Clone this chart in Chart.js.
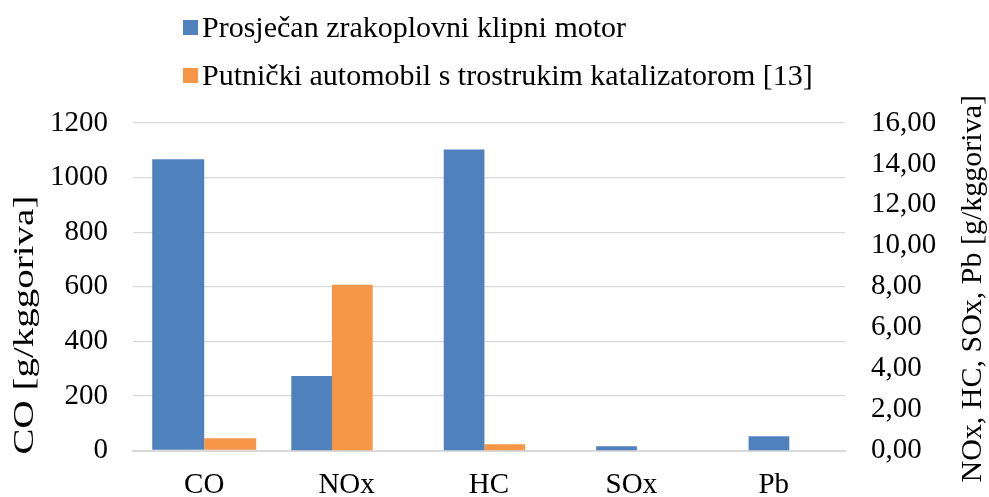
<!DOCTYPE html>
<html>
<head>
<meta charset="utf-8">
<script src="https://cdn.jsdelivr.net/npm/chart.js@4"></script>
<style>
  body { margin: 0; background: #fff; }
  #wrap { position: relative; width: 989px; height: 497px; }
  #legend { position: absolute; left: 183px; top: 3px; font: 30px 'Liberation Serif', 'Times New Roman', serif; color: #000; }
  #legend .row { display: flex; align-items: center; height: 48px; white-space: nowrap; }
  #legend .box { width: 15px; height: 15px; margin-right: 4px; }
</style>
</head>
<body>
<div id="wrap">
  <canvas id="emissionChart"></canvas>
  <div id="legend"></div>
</div>
<script>
// Data

const categories = ['CO', 'NOx', 'HC', 'SOx', 'Pb'];
const seriesNames = ['Prosječan zrakoplovni klipni motor', 'Putnički automobil s trostrukim katalizatorom [13]'];
const seriesColors = ['#4f81bd', '#f79646'];
// first value (CO) is on the left axis, the rest on the right axis
const pistonEngine = [1067, 3.64, 14.70, 0.21, 0.70];
const passengerCar = [45, 8.10, 0.31, 0, 0];
const leftTicks = [0, 200, 400, 600, 800, 1000, 1200];
const rightTicks = [0, 2, 4, 6, 8, 10, 12, 14, 16];
const leftTitle = 'CO [g/kggoriva]';
const rightTitle = 'NOx, HC, SOx, Pb [g/kggoriva]';

const FONT = "'Liberation Serif', 'Times New Roman', serif";
Chart.defaults.font.family = FONT;
Chart.defaults.color = '#000';

// HTML legend
const legendEl = document.getElementById('legend');
seriesNames.forEach((name, i) => {
    const row = document.createElement('div');
    row.className = 'row';
    const box = document.createElement('span');
    box.className = 'box';
    box.style.background = seriesColors[i];
    row.appendChild(box);
    row.appendChild(document.createTextNode(name));
    legendEl.appendChild(row);
});

const primaryData = s => categories.map((c, i) => i === 0 ? s[0] : null);
const secondaryPos = categories.slice(1).map((c, i) => i + 1);
const secondaryData = s => secondaryPos.map(x => ({ x: x, y: s[x] }));

// Axis titles, both read bottom to top
const axisTitles = {
    id: 'axisTitles',
    afterDraw(chart) {
        const ctx = chart.ctx;
        const area = chart.chartArea;
        ctx.save();
        ctx.fillStyle = '#000';
        ctx.textBaseline = 'middle';
        ctx.textAlign = 'left';
        ctx.font = '30px ' + FONT;
        ctx.translate(25, area.bottom + 4);
        ctx.rotate(-Math.PI / 2);
        ctx.scale(1.3, 1); // the left title is stretched along its length in the original
        ctx.fillText(leftTitle, 0, 0);
        ctx.restore();

        ctx.save();
        ctx.fillStyle = '#000';
        ctx.textBaseline = 'middle';
        ctx.textAlign = 'left';
        ctx.font = '30px ' + FONT;
        ctx.translate(973, area.bottom + 32);
        ctx.rotate(-Math.PI / 2);
        ctx.fillText(rightTitle, 0, 0);
        ctx.restore();
    }
};

// Chart.js 4.5 puts bars of different index axes side by side (x2 first, then x),
// so the percentages below cover that doubled slot count.
new Chart(document.getElementById('emissionChart'), {
    type: 'bar',
    data: {
        labels: categories,
        datasets: [
            { label: seriesNames[0], data: secondaryData(pistonEngine), backgroundColor: seriesColors[0], xAxisID: 'x2', yAxisID: 'y1', categoryPercentage: 1.068, barPercentage: 1 },
            { label: seriesNames[1], data: secondaryData(passengerCar), backgroundColor: seriesColors[1], xAxisID: 'x2', yAxisID: 'y1', categoryPercentage: 1.068, barPercentage: 1 },
            { label: seriesNames[0], data: primaryData(pistonEngine), backgroundColor: seriesColors[0], xAxisID: 'x', yAxisID: 'y', categoryPercentage: 1.46, barPercentage: 1 },
            { label: seriesNames[1], data: primaryData(passengerCar), backgroundColor: seriesColors[1], xAxisID: 'x', yAxisID: 'y', categoryPercentage: 1.46, barPercentage: 1 }
        ]
    },
    options: {
        responsive: true,
        maintainAspectRatio: false,
        animation: false,
        layout: { padding: { top: 123, left: 0, right: 0, bottom: 0 } },
        scales: {
            x: {
                position: 'bottom',
                grid: { display: false },
                border: { display: true, color: '#d9d9d9', width: 2 },
                ticks: { font: { size: 29 }, padding: 9, maxRotation: 0, autoSkip: false },
                afterFit: s => { s.height = 46.5; }
            },
            // secondary horizontal axis (as in the Excel original), hidden
            x2: {
                type: 'linear',
                position: 'bottom',
                display: false,
                offset: false,
                bounds: 'data',
                min: -0.5725,
                max: 4.0985,
                afterBuildTicks: s => { s.ticks = secondaryPos.map(v => ({ value: v })); }
            },
            y: {
                position: 'left',
                min: 0,
                max: 1200,
                afterBuildTicks: s => { s.ticks = leftTicks.map(v => ({ value: v })); },
                grid: { color: '#d9d9d9', lineWidth: 1.3, drawTicks: false },
                border: { display: false },
                ticks: { font: { size: 29 }, padding: 25, callback: v => String(v) },
                afterFit: s => { s.width = 133; }
            },
            y1: {
                position: 'right',
                min: 0,
                max: 16,
                afterBuildTicks: s => { s.ticks = rightTicks.map(v => ({ value: v })); },
                grid: { display: false, drawTicks: false },
                border: { display: false },
                ticks: { font: { size: 29 }, padding: 26, callback: v => v.toFixed(2).replace('.', ',') },
                afterFit: s => { s.width = 144; }
            }
        },
        plugins: {
            legend: { display: false },
            tooltip: { enabled: false }
        }
    },
    plugins: [axisTitles]
});
</script>
</body>
</html>
